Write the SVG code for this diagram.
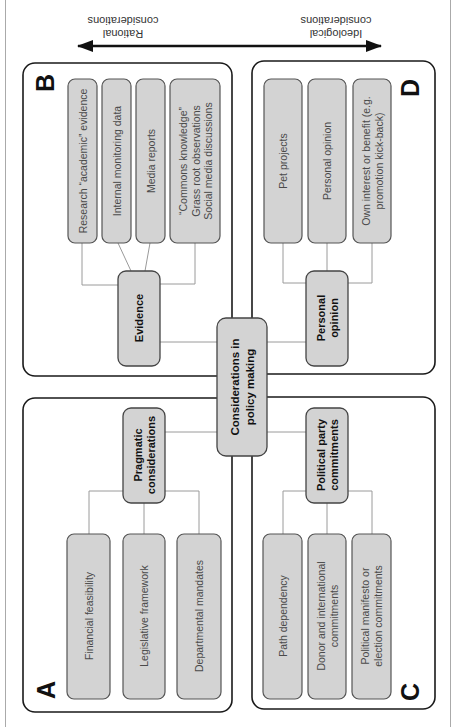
<svg xmlns="http://www.w3.org/2000/svg" width="454" height="727" viewBox="0 0 454 727">
<defs>
<style>
.quad{fill:#fff;stroke:#1a1a1a;stroke-width:1.6}
.item{fill:#d3d3d3;stroke:#555;stroke-width:1.2}
.node{fill:#d3d3d3;stroke:#444;stroke-width:1.3}
.t{font-family:"Liberation Sans",Arial,sans-serif;font-size:10.5px;fill:#4a4a4a;text-anchor:middle;dominant-baseline:central}
.b{font-family:"Liberation Sans",Arial,sans-serif;font-size:11px;font-weight:bold;fill:#111;text-anchor:middle;dominant-baseline:central}
.L{font-family:"Liberation Sans",Arial,sans-serif;font-size:25px;font-weight:bold;fill:#111;text-anchor:middle;dominant-baseline:central}
.c{fill:none;stroke:#9a9a9a;stroke-width:1}
</style>
<marker id="ah" viewBox="0 0 16 12" refX="15" refY="6" markerWidth="16" markerHeight="12" orient="auto-start-reverse" markerUnits="userSpaceOnUse">
<path d="M0,0 L16,6 L0,12 z" fill="#111"/>
</marker>
</defs>
<rect width="454" height="727" fill="#fff"/>
<g id="frame">
<line x1="5.5" y1="0" x2="5.5" y2="727" stroke="#aaa" stroke-width="1"/>
<line x1="450.5" y1="0" x2="450.5" y2="727" stroke="#aaa" stroke-width="1"/>
</g>
<g id="axis">
<line x1="78" y1="46" x2="381" y2="46" stroke="#111" stroke-width="2.4" marker-start="url(#ah)" marker-end="url(#ah)"/>
<text class="t" transform="translate(123,27) rotate(180)" style="fill:#333;font-size:11px"><tspan x="0" dy="-6.5">Rational</tspan><tspan x="0" dy="13">considerations</tspan></text>
<text class="t" transform="translate(336,27) rotate(180)" style="fill:#333;font-size:11px"><tspan x="0" dy="-6.5">Ideological</tspan><tspan x="0" dy="13">considerations</tspan></text>
</g>
<g id="quadB"><rect class="quad" x="23" y="63" width="209" height="313" rx="12"/><text class="L" transform="translate(45,83) rotate(-90)">B</text></g>
<g id="quadD"><rect class="quad" x="252" y="61" width="183" height="313" rx="12"/><text class="L" transform="translate(410,88) rotate(-90)">D</text></g>
<g id="quadA"><rect class="quad" x="23" y="398" width="209" height="314" rx="12"/><text class="L" transform="translate(46,690) rotate(-90)">A</text></g>
<g id="quadC"><rect class="quad" x="252" y="397" width="183" height="312" rx="12"/><text class="L" transform="translate(410,692) rotate(-90)">C</text></g>
<g id="connectors">
<path class="c" d="M118,285 H82 V243"/>
<path class="c" d="M131,271 L118,243"/>
<path class="c" d="M145,271 L150,243"/>
<path class="c" d="M160,284 H195 V243"/>
<path class="c" d="M160,342 H217"/>
<path class="c" d="M306,283 H283 V243"/>
<path class="c" d="M327,271 V243"/>
<path class="c" d="M348,283 H372 V243"/>
<path class="c" d="M306,342 H267"/>
<path class="c" d="M217,432 H165"/>
<path class="c" d="M123,491 H89 V534"/>
<path class="c" d="M144,503 V534"/>
<path class="c" d="M165,491 H199 V534"/>
<path class="c" d="M267,432 H306"/>
<path class="c" d="M306,491 H283 V534"/>
<path class="c" d="M327,503 V534"/>
<path class="c" d="M348,491 H372 V534"/>
</g>
<g id="b1"><rect class="item" x="68" y="79" width="29" height="164" rx="7"/><text class="t" transform="translate(82.5,161) rotate(-90)">Research “academic” evidence</text></g>
<g id="b2"><rect class="item" x="102" y="79" width="29" height="164" rx="7"/><text class="t" transform="translate(116.5,161) rotate(-90)">Internal monitoring data</text></g>
<g id="b3"><rect class="item" x="136" y="79" width="29" height="164" rx="7"/><text class="t" transform="translate(150.5,161) rotate(-90)">Media reports</text></g>
<g id="b4"><rect class="item" x="170" y="79" width="50" height="164" rx="7"/><text class="t" transform="translate(195.5,161) rotate(-90)"><tspan x="0" dy="-12.5">“Commons knowledge”</tspan><tspan x="0" dy="12.5">Grass root observations</tspan><tspan x="0" dy="12.5">Social media discussions</tspan></text></g>
<g id="d1"><rect class="item" x="264" y="79" width="38" height="164" rx="7"/><text class="t" transform="translate(283,161) rotate(-90)">Pet projects</text></g>
<g id="d2"><rect class="item" x="308" y="79" width="38" height="164" rx="7"/><text class="t" transform="translate(327,161) rotate(-90)">Personal opinion</text></g>
<g id="d3"><rect class="item" x="353" y="79" width="38" height="164" rx="7"/><text class="t" transform="translate(372,161) rotate(-90)"><tspan x="0" dy="-6.5">Own interest or benefit (e.g.</tspan><tspan x="0" dy="13">promotion kick-back)</tspan></text></g>
<g id="a1"><rect class="item" x="67" y="534" width="43" height="165" rx="7"/><text class="t" transform="translate(88.5,616) rotate(-90)">Financial feasibility</text></g>
<g id="a2"><rect class="item" x="123" y="534" width="42" height="165" rx="7"/><text class="t" transform="translate(144,616) rotate(-90)">Legislative framework</text></g>
<g id="a3"><rect class="item" x="177" y="534" width="44" height="165" rx="7"/><text class="t" transform="translate(199,616) rotate(-90)">Departmental mandates</text></g>
<g id="c1"><rect class="item" x="263" y="534" width="39" height="165" rx="7"/><text class="t" transform="translate(282.5,616) rotate(-90)">Path dependency</text></g>
<g id="c2"><rect class="item" x="308" y="534" width="38" height="165" rx="7"/><text class="t" transform="translate(327,616) rotate(-90)"><tspan x="0" dy="-6.5">Donor and international</tspan><tspan x="0" dy="13">commitments</tspan></text></g>
<g id="c3"><rect class="item" x="352" y="534" width="39" height="165" rx="7"/><text class="t" transform="translate(371.5,616) rotate(-90)"><tspan x="0" dy="-6.5">Political manifesto or</tspan><tspan x="0" dy="13">election commitments</tspan></text></g>
<g id="evidence"><rect class="node" x="118" y="271" width="42" height="95" rx="8"/><text class="b" transform="translate(139,318) rotate(-90)">Evidence</text></g>
<g id="personal"><rect class="node" x="306" y="271" width="42" height="95" rx="8"/><text class="b" transform="translate(327,318) rotate(-90)"><tspan x="0" dy="-6.5">Personal</tspan><tspan x="0" dy="13">opinion</tspan></text></g>
<g id="pragmatic"><rect class="node" x="123" y="408" width="42" height="95" rx="8"/><text class="b" transform="translate(144,455) rotate(-90)"><tspan x="0" dy="-6.5">Pragmatic</tspan><tspan x="0" dy="13">considerations</tspan></text></g>
<g id="political"><rect class="node" x="306" y="408" width="42" height="95" rx="8"/><text class="b" transform="translate(327,455) rotate(-90)"><tspan x="0" dy="-6.5">Political party</tspan><tspan x="0" dy="13">commitments</tspan></text></g>
<g id="center"><rect class="node" x="217" y="318" width="50" height="138" rx="9"/><text class="b" transform="translate(242,387) rotate(-90)" style="font-size:11.5px"><tspan x="0" dy="-7.5">Considerations in</tspan><tspan x="0" dy="15">policy making</tspan></text></g>
</svg>
